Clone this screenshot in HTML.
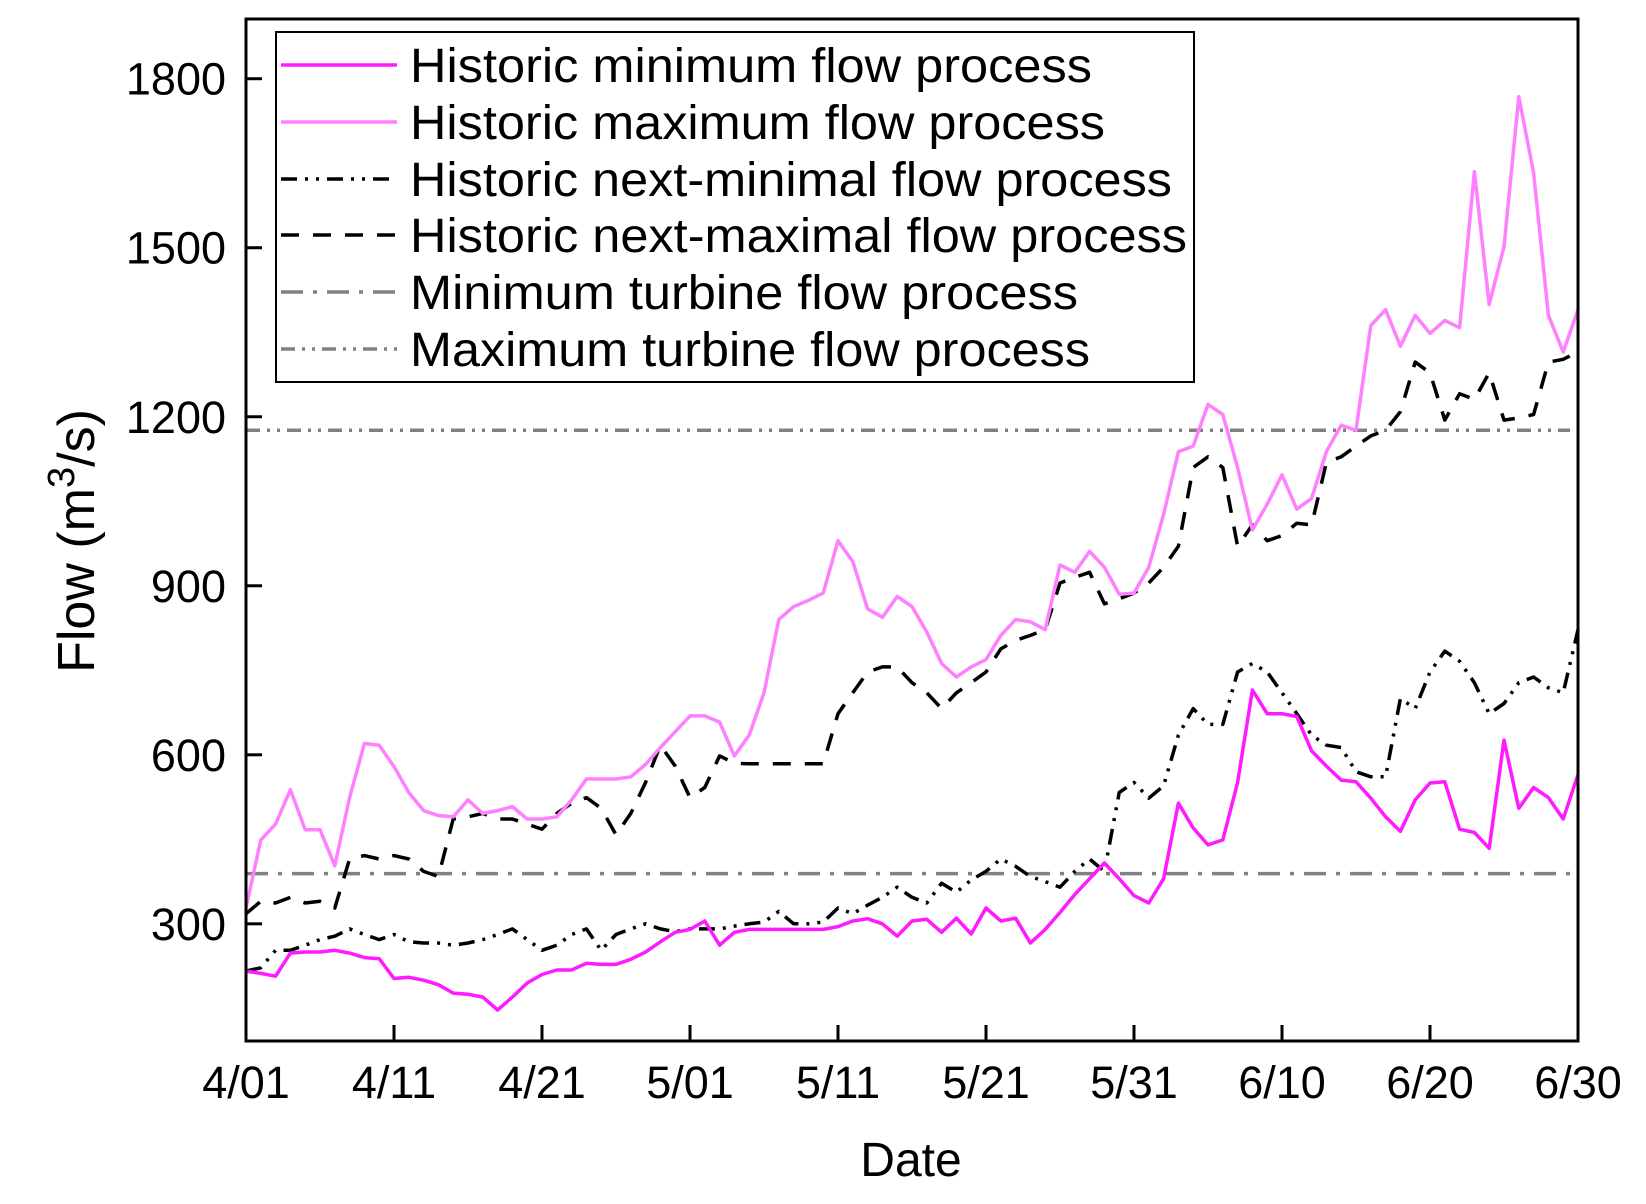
<!DOCTYPE html>
<html><head><meta charset="utf-8"><style>
body{margin:0;background:#fff;}
svg{display:block;font-family:"Liberation Sans",Arial,sans-serif;}
</style></head><body>
<svg id="chart" width="1646" height="1204" viewBox="0 0 1646 1204" xmlns="http://www.w3.org/2000/svg">
<g id="plot"></g>
</svg>
<script>
const xTickLabels=["4/01","4/11","4/21","5/01","5/11","5/21","5/31","6/10","6/20","6/30"];
const yTicks=[300,600,900,1200,1500,1800];
const histMin=[216,212,207,248,250,250,253,248,240,238,203,205,200,192,177,175,170,147,170,195,210,218,218,230,228,228,237,250,268,285,290,305,262,285,290,290,290,290,290,290,295,305,309,300,278,305,308,285,310,282,328,305,310,266,290,320,352,380,408,380,350,337,380,514,470,440,449,551,715,673,673,668,607,580,555,552,523,490,464,520,550,552,468,462,434,626,505,542,524,486,565];
const histMax=[328,449,477,538,467,467,403,524,620,617,579,533,501,492,490,520,496,501,508,486,486,490,520,557,557,557,561,583,613,641,669,669,658,598,635,710,840,863,874,887,980,943,859,844,881,863,818,762,738,756,769,812,840,836,822,937,924,961,933,885,887,933,1027,1138,1148,1222,1204,1110,999,1045,1097,1036,1055,1138,1185,1176,1362,1390,1325,1380,1348,1371,1358,1635,1399,1502,1768,1633,1380,1315,1390];
const nextMin=[216,222,253,253,262,272,278,291,281,272,281,268,266,266,262,266,272,281,291,272,253,262,281,291,253,281,291,300,291,286,291,291,291,296,300,303,322,300,300,303,328,318,333,347,365,347,337,372,356,378,393,415,402,384,375,365,393,415,393,533,551,523,545,635,682,654,654,747,762,747,710,673,635,617,613,570,561,561,700,682,747,784,766,728,673,691,728,738,719,710,822];
const nextMax=[318,340,337,347,337,340,328,415,421,415,421,415,393,384,486,490,496,486,486,477,468,496,514,524,505,458,496,551,617,580,524,542,598,585,584,584,584,584,584,584,673,710,747,756,756,728,710,682,710,728,747,788,803,812,822,905,915,924,868,877,887,905,933,970,1110,1129,1110,970,1008,980,989,1011,1008,1119,1129,1148,1166,1176,1209,1297,1278,1194,1241,1231,1278,1194,1198,1204,1297,1302,1315];
const turbineMin=389, turbineMax=1176;
const seriesNames=["Historic minimum flow process","Historic maximum flow process","Historic next-minimal flow process","Historic next-maximal flow process","Minimum turbine flow process","Maximum turbine flow process"];

const L=246,R=1578,T=19,B=1041,Y0=92,Y1=1906,D=90;
const xS=d=>L+(R-L)*d/D;
const yS=v=>B-(B-T)*(v-Y0)/(Y1-Y0);
const NS="http://www.w3.org/2000/svg";
const g=document.getElementById('plot');
function mk(tag,attrs,parent){const e=document.createElementNS(NS,tag);for(const k in attrs)e.setAttribute(k,attrs[k]);(parent||g).appendChild(e);return e;}

const styles=[
 {stroke:"#ff1aff",w:3.5,dash:""},
 {stroke:"#ff80ff",w:3.5,dash:""},
 {stroke:"#000",w:3.5,dash:"16,8,3,8,3,8"},
 {stroke:"#000",w:3.5,dash:"18,14"},
 {stroke:"#808080",w:3.5,dash:"22,10,4,10"},
 {stroke:"#808080",w:3.5,dash:"14,7,3,7,3,7"}
];
const datas=[histMin,histMax,nextMin,nextMax];
const names=['historic-minimum-line','historic-maximum-line','historic-next-minimal-line','historic-next-maximal-line'];

[turbineMin,turbineMax].forEach((v,i)=>{
 const s=styles[4+i];
 const ln=mk('line',{x1:L,x2:R-8,y1:yS(v),y2:yS(v),stroke:s.stroke,'stroke-width':s.w,'stroke-dasharray':s.dash});
 
 
});
[3,2,1,0].forEach(i=>{
 const s=styles[i];
 const pts=datas[i].map((v,d)=>xS(d).toFixed(1)+','+yS(v).toFixed(1)).join(' ');
 const pl=mk('polyline',{points:pts,fill:'none',stroke:s.stroke,'stroke-width':s.w,'stroke-dasharray':s.dash,'stroke-linejoin':'round'});
 
 
});
const fr=mk('rect',{x:L,y:T,width:R-L,height:B-T,fill:'none',stroke:'#000','stroke-width':3});


xTickLabels.forEach((t,i)=>{
 const x=xS(i*10);
 const tk=mk('line',{x1:x,x2:x,y1:B,y2:B-16,stroke:'#000','stroke-width':3});
 
 
 const tx=mk('text',{x:x,y:1098,'font-size':45,'text-anchor':'middle',fill:'#000'});
 tx.textContent=t;
 
 
});
yTicks.forEach(v=>{
 const y=yS(v);
 const tk=mk('line',{x1:L,x2:L+16,y1:y,y2:y,stroke:'#000','stroke-width':3});
 
 
 const tx=mk('text',{x:226,y:y+16,'font-size':45,'text-anchor':'end',fill:'#000'});
 tx.textContent=v;
 
 
});
const xt=mk('text',{x:911,y:1176,'font-size':48,'text-anchor':'middle'});
xt.textContent='Date';


const yt=mk('text',{x:0,y:0,'font-size':52,'text-anchor':'middle',transform:'translate(94,541) rotate(-90)'});
yt.innerHTML='Flow (m<tspan dy="-20" font-size="38">3</tspan><tspan dy="20">/s)</tspan>';


const lg=mk('g',{});


const lb=mk('rect',{x:276,y:32,width:918,height:350,fill:'#fff',stroke:'#000','stroke-width':2},lg);


const rowsY=[65,122,179,235,292,349];
const widths=[682,695,762,777,668,680];
seriesNames.forEach((n,i)=>{
 const s=styles[i];
 const y=rowsY[i];
 const e=mk('g',{},lg);
 
 
 mk('line',{x1:281,x2:397,y1:y,y2:y,stroke:s.stroke,'stroke-width':s.w,'stroke-dasharray':s.dash},e);
 const t=mk('text',{x:410,y:y+17,'font-size':48,textLength:widths[i],lengthAdjust:'spacingAndGlyphs'},e);
 t.textContent=n;
});
</script>
</body></html>
